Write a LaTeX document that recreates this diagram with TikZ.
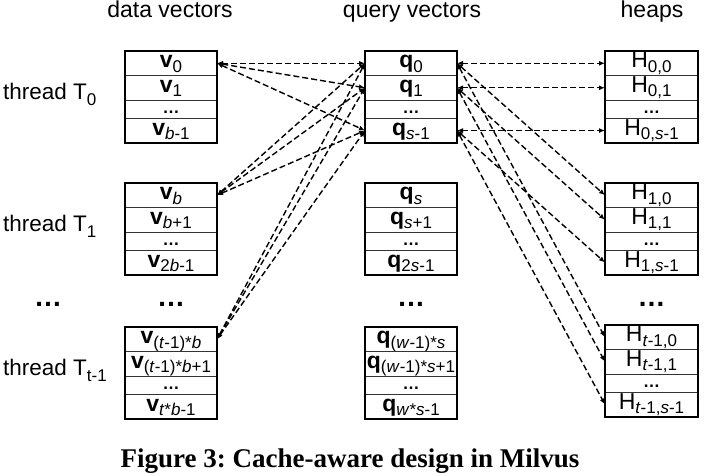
\documentclass[tikz,border=0pt]{standalone}
\usepackage{fontspec}
\setmainfont{Liberation Sans}
\newfontfamily\capfont{Liberation Serif}
\usetikzlibrary{arrows.meta}
\usetikzlibrary{positioning}
\newcommand{\subtxt}[1]{\raisebox{-4.5pt}{\fontsize{17}{17}\selectfont #1}}
\newcommand{\thsub}[1]{\raisebox{-6pt}{\fontsize{17}{17}\selectfont #1}}
\tikzset{
  cell/.style={draw=black!80, line width=0.8pt, minimum width=92pt, minimum height=24.5pt,
    inner sep=0pt, outer sep=0pt, text height=14pt, text depth=5pt, font=\fontsize{23}{23}\selectfont},
  dotcell/.style={cell, minimum height=18pt, text height=13pt, font=\fontsize{17}{17}\selectfont\bfseries},
  endcell/.style={cell, minimum height=25pt},
  blockframe/.style={draw, line width=1.4pt},
  heading/.style={anchor=base, inner sep=0pt, font=\fontsize{23}{23}\selectfont},
  threadtext/.style={anchor=base west, inner sep=0pt, font=\fontsize{22.5}{22.5}\selectfont},
  bigdots/.style={anchor=base, inner sep=0pt, font=\fontsize{28}{28}\selectfont\bfseries},
  link/.style={{Latex[length=6pt,width=5pt]}-{Latex[length=6pt,width=5pt]},
    dash pattern=on 6pt off 3pt, line width=1.4pt}
}

\begin{document}
\begin{tikzpicture}[x=1pt, y=-1pt]
    \useasboundingbox (0,0) rectangle (706,475);

    % headings
    \node[heading] (hdata) at (170,17) {data vectors};
    \node[heading] (hquery) at (412,17) {query vectors};
    \node[heading] (hheap) at (652,17) {heaps};

    % threads
    \node[threadtext] (t0) at (3,99) {thread T\thsub{0}};
    \node[threadtext] (t1) at (3,231) {thread T\thsub{1}};
    \node[threadtext] (t2) at (3,375) {thread T\thsub{t-1}};

    % data vectors
    \node[cell, anchor=north] (v00) at (171,51) {\textbf{v}\subtxt{0}};
    \node[cell, below=0pt of v00] (v01) {\textbf{v}\subtxt{1}};
    \node[dotcell, below=0pt of v01] (v02) {…};
    \node[endcell, below=0pt of v02] (v03) {\textbf{v}\subtxt{\textit{b}-1}};
    \draw[blockframe] (v00.north west) rectangle (v03.south east);

    \node[cell, anchor=north] (v10) at (171,183) {\textbf{v}\subtxt{\textit{b}}};
    \node[cell, below=0pt of v10] (v11) {\textbf{v}\subtxt{\textit{b}+1}};
    \node[dotcell, below=0pt of v11] (v12) {…};
    \node[endcell, below=0pt of v12] (v13) {\textbf{v}\subtxt{2\textit{b}-1}};
    \draw[blockframe] (v10.north west) rectangle (v13.south east);

    \node[cell, anchor=north] (v20) at (171,327) {\textbf{v}\subtxt{(\textit{t}-1)*\textit{b}}};
    \node[cell, below=0pt of v20] (v21) {\textbf{v}\subtxt{(\textit{t}-1)*\textit{b}+1}};
    \node[dotcell, below=0pt of v21] (v22) {…};
    \node[endcell, below=0pt of v22] (v23) {\textbf{v}\subtxt{\textit{t}*\textit{b}-1}};
    \draw[blockframe] (v20.north west) rectangle (v23.south east);

    % query vectors
    \node[cell, anchor=north] (q00) at (411,51) {\textbf{q}\subtxt{0}};
    \node[cell, below=0pt of q00] (q01) {\textbf{q}\subtxt{1}};
    \node[dotcell, below=0pt of q01] (q02) {…};
    \node[endcell, below=0pt of q02] (q03) {\textbf{q}\subtxt{\textit{s}-1}};
    \draw[blockframe] (q00.north west) rectangle (q03.south east);

    \node[cell, anchor=north] (q10) at (411,183) {\textbf{q}\subtxt{\textit{s}}};
    \node[cell, below=0pt of q10] (q11) {\textbf{q}\subtxt{\textit{s}+1}};
    \node[dotcell, below=0pt of q11] (q12) {…};
    \node[endcell, below=0pt of q12] (q13) {\textbf{q}\subtxt{2\textit{s}-1}};
    \draw[blockframe] (q10.north west) rectangle (q13.south east);

    \node[cell, anchor=north] (q20) at (411,327) {\textbf{q}\subtxt{(\textit{w}-1)*\textit{s}}};
    \node[cell, below=0pt of q20] (q21) {\textbf{q}\subtxt{(\textit{w}-1)*\textit{s}+1}};
    \node[dotcell, below=0pt of q21] (q22) {…};
    \node[endcell, below=0pt of q22] (q23) {\textbf{q}\subtxt{\textit{w}*\textit{s}-1}};
    \draw[blockframe] (q20.north west) rectangle (q23.south east);

    % heaps
    \node[cell, minimum width=93pt, anchor=north] (h00) at (651.5,51) {H\subtxt{0,0}};
    \node[cell, minimum width=93pt, below=0pt of h00] (h01) {H\subtxt{0,1}};
    \node[dotcell, minimum width=93pt, below=0pt of h01] (h02) {…};
    \node[endcell, minimum width=93pt, below=0pt of h02] (h03) {H\subtxt{0,\textit{s}-1}};
    \draw[blockframe] (h00.north west) rectangle (h03.south east);

    \node[cell, minimum width=93pt, anchor=north] (h10) at (651.5,183) {H\subtxt{1,0}};
    \node[cell, minimum width=93pt, below=0pt of h10] (h11) {H\subtxt{1,1}};
    \node[dotcell, minimum width=93pt, below=0pt of h11] (h12) {…};
    \node[endcell, minimum width=93pt, below=0pt of h12] (h13) {H\subtxt{1,\textit{s}-1}};
    \draw[blockframe] (h10.north west) rectangle (h13.south east);

    \node[cell, minimum width=93pt, anchor=north] (h20) at (651.5,325) {H\subtxt{\textit{t}-1,0}};
    \node[cell, minimum width=93pt, below=0pt of h20] (h21) {H\subtxt{\textit{t}-1,1}};
    \node[dotcell, minimum width=93pt, below=0pt of h21] (h22) {…};
    \node[endcell, minimum width=93pt, below=0pt of h22] (h23) {H\subtxt{\textit{t}-1,\textit{s}-1}};
    \draw[blockframe] (h20.north west) rectangle (h23.south east);

    % gaps between threads
    \node[bigdots] (d0) at (48,306) {…};
    \node[bigdots] (d1) at (171,306) {…};
    \node[bigdots] (d2) at (411,306) {…};
    \node[bigdots] (d3) at (651.5,306) {…};

    % links
    \foreach \g in {0,1,2}
        \foreach \r in {0,1,3}
            \draw[link] (v\g0.east) -- (q0\r.west);
    \foreach \r in {0,1,3}
        \foreach \g in {0,1,2}
            \draw[link] (q0\r.east) -- (h\g\r.west);

    \node[anchor=base, inner sep=0pt, font=\capfont\bfseries\fontsize{27}{27}\selectfont] (caption) at (350,467)
        {Figure 3:\ Cache-aware design in Milvus};

\end{tikzpicture}
\end{document}
